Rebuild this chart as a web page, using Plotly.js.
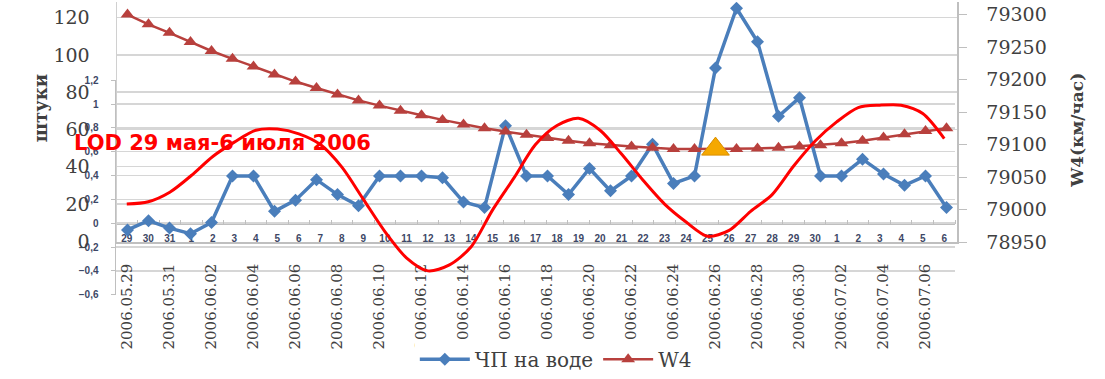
<!DOCTYPE html>
<html>
<head>
<meta charset="utf-8">
<script src="https://cdn.plot.ly/plotly-3.0.1.min.js"></script>
<style>
  html, body { margin: 0; padding: 0; background: #ffffff; }
  #chart { width: 1105px; height: 379px; }
</style>
</head>
<body>
<div id="chart"></div>
<script>
// ---- main chart data ----
const DATES = [
  '2006.05.29','2006.05.30','2006.05.31','2006.06.01','2006.06.02','2006.06.03','2006.06.04','2006.06.05',
  '2006.06.06','2006.06.07','2006.06.08','2006.06.09','2006.06.10','2006.06.11','2006.06.12','2006.06.13',
  '2006.06.14','2006.06.15','2006.06.16','2006.06.17','2006.06.18','2006.06.19','2006.06.20','2006.06.21',
  '2006.06.22','2006.06.23','2006.06.24','2006.06.25','2006.06.26','2006.06.27','2006.06.28','2006.06.29',
  '2006.06.30','2006.07.01','2006.07.02','2006.07.03','2006.07.04','2006.07.05','2006.07.06','2006.07.07'
];
const CHP_NA_VODE = [6, 11, 7, 4, 10, 35, 35, 16, 22, 33, 25, 19, 35, 35, 35, 34, 21, 18, 62, 35,
                     35, 25, 39, 27, 35, 52, 31, 35, 93, 125, 107, 67, 77, 35, 35, 44, 36, 30, 35, 18];
const W4 = [79300, 79285, 79272, 79258, 79244, 79232, 79220, 79208, 79197, 79187,
            79177, 79168, 79160, 79152, 79145, 79138, 79131, 79125, 79120, 79115,
            79110, 79106, 79102, 79099, 79097, 79095, 79093, 79093, 79093, 79093,
            79094, 79095, 79097, 79099, 79102, 79106, 79111, 79116, 79121, 79125];
const HIGHLIGHT_DATE = '2006.06.26';

// ---- LOD inset data ----
const LOD_DAYS = ['29','30','31','1','2','3','4','5','6','7','8','9','10','11','12','13','14','15','16','17',
                  '18','19','20','21','22','23','24','25','26','27','28','29','30','1','2','3','4','5','6'];
const LOD = [0.16, 0.18, 0.26, 0.40, 0.56, 0.68, 0.78, 0.79, 0.75, 0.66, 0.47, 0.20, -0.07, -0.29, -0.40,
             -0.35, -0.20, 0.11, 0.38, 0.66, 0.82, 0.88, 0.78, 0.58, 0.36, 0.16, 0.01, -0.11, -0.06, 0.10,
             0.24, 0.48, 0.69, 0.85, 0.97, 0.99, 0.99, 0.92, 0.71];

// ---- texts ----
const SERIES_NAMES = ['ЧП на воде', 'W4'];
const LOD_TITLE = 'LOD 29 мая-6 июля 2006';
const LEFT_TITLE = 'штуки';
const RIGHT_TITLE = 'W4(км/час)';

// ---- helpers (pixel -> paper) ----
const W = 1105, H = 379;
const fx = p => p / W;
const fy = p => 1 - p / H;

const lodIdx = LOD_DAYS.map((_, i) => i);
const mainTicks = DATES.filter((_, i) => i % 2 === 0);
const hiIdx = DATES.indexOf(HIGHLIGHT_DATE);

const serif = 'DejaVu Serif, Liberation Serif, serif';
const grey = '#404040';
const lodFont = { family: 'Liberation Sans, Arial, sans-serif', size: 10, color: '#3d4766', weight: 'bold' };

const traces = [
  // LOD frame carrier (invisible; makes the inset grid/axes render beneath everything)
  {
    x: lodIdx, y: LOD, xaxis: 'x', yaxis: 'y', showlegend: false, hoverinfo: 'skip',
    type: 'scatter', mode: 'lines', line: { color: 'rgba(0,0,0,0)', width: 0 }
  },
  {
    x: DATES, y: CHP_NA_VODE, xaxis: 'x2', yaxis: 'y2', name: SERIES_NAMES[0],
    type: 'scatter', mode: 'lines+markers',
    line: { color: '#4a7ebb', width: 3.5 },
    marker: { symbol: 'diamond', size: 10, color: '#4a7ebb' }
  },
  {
    x: DATES, y: W4, xaxis: 'x2', yaxis: 'y3', name: SERIES_NAMES[1],
    type: 'scatter', mode: 'lines+markers',
    line: { color: '#b8403d', width: 2.5 },
    marker: { symbol: 'triangle-up', size: 12, color: '#b8403d' }
  },
  {
    x: [DATES[hiIdx]], y: [W4[hiIdx]], xaxis: 'x2', yaxis: 'y3', showlegend: false,
    type: 'scatter', mode: 'markers', hoverinfo: 'skip',
    marker: { symbol: 'triangle-up', size: 24, color: '#f5a800', line: { color: '#d98e00', width: 1 } }
  },
  {
    x: lodIdx, y: LOD, xaxis: 'x3', yaxis: 'y4', showlegend: false,
    type: 'scatter', mode: 'lines',
    line: { color: '#ff0000', width: 3, shape: 'spline', smoothing: 0.8 }
  }
];

const lodXDomain = [fx(116), fx(955)];
const lodYDomain = [fy(302), fy(82)];

const layout = {
  width: W, height: H,
  margin: { l: 0, r: 0, t: 0, b: 0 },
  paper_bgcolor: '#ffffff',
  plot_bgcolor: 'rgba(0,0,0,0)',
  separators: ', ',
  font: { family: serif, color: grey },
  showlegend: true,
  legend: {
    orientation: 'h', x: 0.503, xanchor: 'center', y: fy(368), yanchor: 'middle',
    font: { family: serif, size: 20, color: grey }, itemwidth: 50, tracegroupgap: 0
  },
  // LOD inset axes (grid + labels)
  xaxis: {
    domain: lodXDomain, range: [-0.5, 38.5], anchor: 'free', position: fy(229),
    showline: true, linecolor: '#bfbfbf', linewidth: 1.5,
    showgrid: false, zeroline: false,
    tickmode: 'array', tickvals: lodIdx, ticktext: LOD_DAYS, ticks: '',
    tickfont: lodFont, ticklabelstandoff: 5,
    minor: { tickmode: 'linear', tick0: -0.5, dtick: 1, ticks: 'inside', ticklen: 4, tickcolor: '#bfbfbf', showgrid: false }
  },
  yaxis: {
    domain: lodYDomain, range: [-0.601, 1.201], anchor: 'x',
    tick0: 0, dtick: 0.2,
    showgrid: true, gridcolor: '#d6d6d6', gridwidth: 1.5, zeroline: false,
    showline: true, linecolor: '#bfbfbf', linewidth: 1.5,
    ticks: 'outside', ticklen: 4, tickcolor: '#bfbfbf',
    tickfont: lodFont, ticklabelstandoff: 10
  },
  // main chart axes
  xaxis2: {
    type: 'category', domain: [fx(117), fx(957)], anchor: 'y2', range: [-0.5, 39.5],
    tickmode: 'array', tickvals: mainTicks, ticktext: mainTicks, tickangle: -90,
    tickfont: { family: serif, size: 15, color: grey }, ticklabelstandoff: 14,
    showline: true, linecolor: '#bfbfbf', linewidth: 1.5, showgrid: false, ticks: ''
  },
  yaxis2: {
    domain: [fy(248), fy(2)], anchor: 'x2', range: [-0.52, 128.4],
    tick0: 0, dtick: 20,
    showgrid: true, gridcolor: '#d6d6d6', gridwidth: 1.5, zeroline: false,
    showline: true, linecolor: '#d0d0d0', linewidth: 1.5, ticks: '',
    tickfont: { family: serif, size: 19, color: grey }, ticklabelstandoff: 22
  },
  yaxis3: {
    overlaying: 'y2', side: 'right', anchor: 'x2', range: [78949.9, 79319.5],
    tick0: 78950, dtick: 50, tickformat: 'd',
    showgrid: false, zeroline: false,
    showline: true, linecolor: '#bfbfbf', linewidth: 1.5,
    ticks: 'outside', ticklen: 8, tickcolor: '#bfbfbf',
    tickfont: { family: serif, size: 19, color: grey }, ticklabelstandoff: 16
  },
  // LOD line (drawn on top)
  xaxis3: { domain: lodXDomain, range: [-0.5, 38.5], anchor: 'y4', visible: false },
  yaxis4: { domain: lodYDomain, range: [-0.601, 1.201], anchor: 'x3', visible: false },
  annotations: [
    { text: LOD_TITLE, xref: 'paper', yref: 'paper', x: fx(222), y: fy(146), xanchor: 'center', yanchor: 'middle',
      showarrow: false, font: { family: 'DejaVu Sans, sans-serif', size: 21, color: '#ff0000', weight: 'bold' } },
    { text: LEFT_TITLE, xref: 'paper', yref: 'paper', x: fx(40), y: fy(111), xanchor: 'center', yanchor: 'middle',
      showarrow: false, textangle: -90, font: { family: serif, size: 18, color: grey, weight: 'bold' } },
    { text: RIGHT_TITLE, xref: 'paper', yref: 'paper', x: fx(1077), y: fy(134), xanchor: 'center', yanchor: 'middle',
      showarrow: false, textangle: -90, font: { family: serif, size: 17, color: grey, weight: 'bold' } }
  ]
};

Plotly.newPlot('chart', traces, layout, { staticPlot: true, displayModeBar: false });
</script>
</body>
</html>
